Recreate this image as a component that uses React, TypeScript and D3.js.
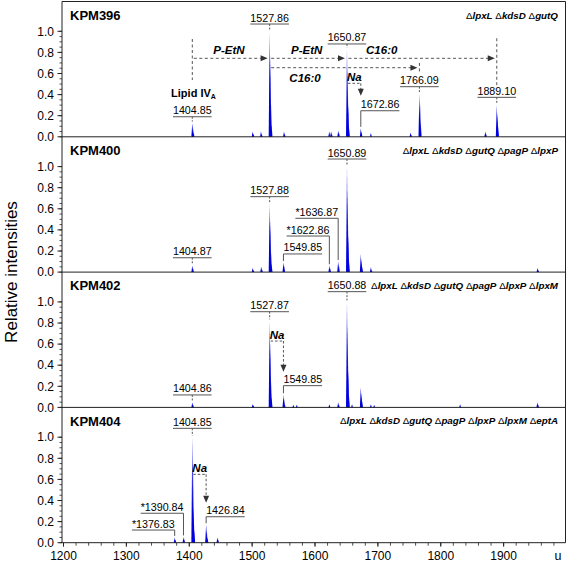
import React from 'react';
import * as d3 from 'd3';

const W = 567;
const H = 562;

const panelNames = ['KPM396', 'KPM400', 'KPM402', 'KPM404'];
const genotypes = [
  ['lpxL', 'kdsD', 'gutQ'],
  ['lpxL', 'kdsD', 'gutQ', 'pagP', 'lpxP'],
  ['lpxL', 'kdsD', 'gutQ', 'pagP', 'lpxP', 'lpxM'],
  ['lpxL', 'kdsD', 'gutQ', 'pagP', 'lpxP', 'lpxM', 'eptA'],
];

// [m/z, relative intensity]
const kpm396Peaks: [number, number][] = [
  [1404.85, 0.13], [1405.85, 0.09], [1406.85, 0.04],
  [1500.9, 0.05], [1501.9, 0.03],
  [1514.1, 0.05], [1515.1, 0.03],
  [1527.86, 1.0], [1528.86, 0.78], [1529.86, 0.36], [1530.86, 0.12],
  [1550.7, 0.05], [1551.7, 0.03],
  [1622.7, 0.05], [1625.6, 0.05], [1626.6, 0.03],
  [1637.0, 0.06], [1638.0, 0.04],
  [1650.87, 0.83], [1651.87, 0.65], [1652.87, 0.3], [1653.87, 0.1],
  [1672.86, 0.08], [1673.86, 0.05],
  [1688.9, 0.035],
  [1751.9, 0.04], [1752.9, 0.02],
  [1766.09, 0.41], [1767.09, 0.31], [1768.09, 0.14],
  [1870.9, 0.05], [1871.9, 0.03],
  [1889.1, 0.3], [1890.1, 0.23], [1891.1, 0.1],
];

const kpm400Peaks: [number, number][] = [
  [1404.87, 0.06], [1405.87, 0.04],
  [1500.9, 0.04], [1501.9, 0.02],
  [1514.5, 0.05], [1515.5, 0.03],
  [1527.88, 0.645], [1528.88, 0.5], [1529.88, 0.22], [1530.88, 0.08],
  [1549.85, 0.09], [1550.85, 0.06],
  [1622.86, 0.06], [1623.86, 0.04],
  [1636.87, 0.1], [1637.87, 0.07],
  [1650.89, 1.0], [1651.89, 0.78], [1652.89, 0.35], [1653.89, 0.12],
  [1672.86, 0.17], [1673.86, 0.12], [1674.86, 0.05],
  [1688.9, 0.045], [1689.9, 0.02],
  [1953.9, 0.04], [1954.9, 0.02],
];

const kpm402Peaks: [number, number][] = [
  [1404.86, 0.05], [1405.86, 0.03],
  [1500.9, 0.03], [1501.9, 0.02],
  [1527.87, 0.82], [1528.87, 0.63], [1529.87, 0.28], [1530.87, 0.1],
  [1549.85, 0.12], [1550.85, 0.08], [1551.85, 0.03],
  [1565.6, 0.025], [1571.0, 0.025],
  [1622.9, 0.03], [1636.9, 0.05], [1637.9, 0.03],
  [1650.88, 1.0], [1651.88, 0.78], [1652.88, 0.35], [1653.88, 0.12],
  [1658.9, 0.03],
  [1672.86, 0.19], [1673.86, 0.14], [1674.86, 0.06],
  [1688.9, 0.03], [1694.1, 0.025],
  [1830.8, 0.03],
  [1953.7, 0.05], [1954.7, 0.03],
];

const kpm404Peaks: [number, number][] = [
  [1376.83, 0.05], [1377.83, 0.03],
  [1390.84, 0.055], [1391.84, 0.035],
  [1404.85, 1.0], [1405.85, 0.78], [1406.85, 0.35], [1407.85, 0.12],
  [1426.84, 0.17], [1427.84, 0.12], [1428.84, 0.05],
  [1444.8, 0.05], [1445.8, 0.03],
];

const spectra = [kpm396Peaks, kpm400Peaks, kpm402Peaks, kpm404Peaks];

type Ann = { mz: number; text: string; level: number; kind: 'center' | 'right' | 'left' };

const kpm396Labels: Ann[] = [
  { mz: 1404.85, text: '1404.85', level: 0.19, kind: 'center' },
  { mz: 1527.86, text: '1527.86', level: 1.069, kind: 'center' },
  { mz: 1650.87, text: '1650.87', level: 0.88, kind: 'center' },
  { mz: 1766.09, text: '1766.09', level: 0.475, kind: 'center' },
  { mz: 1889.1, text: '1889.10', level: 0.374, kind: 'center' },
  { mz: 1672.86, text: '1672.86', level: 0.247, kind: 'right' },
];
const kpm400Labels: Ann[] = [
  { mz: 1404.87, text: '1404.87', level: 0.136, kind: 'center' },
  { mz: 1527.88, text: '1527.88', level: 0.715, kind: 'center' },
  { mz: 1650.89, text: '1650.89', level: 1.072, kind: 'center' },
  { mz: 1549.85, text: '1549.85', level: 0.172, kind: 'right' },
  { mz: 1622.86, text: '*1622.86', level: 0.342, kind: 'left' },
  { mz: 1636.87, text: '*1636.87', level: 0.51, kind: 'left' },
];
const kpm402Labels: Ann[] = [
  { mz: 1404.86, text: '1404.86', level: 0.118, kind: 'center' },
  { mz: 1527.87, text: '1527.87', level: 0.907, kind: 'center' },
  { mz: 1650.88, text: '1650.88', level: 1.097, kind: 'center' },
  { mz: 1549.85, text: '1549.85', level: 0.206, kind: 'right' },
];
const kpm404Labels: Ann[] = [
  { mz: 1404.85, text: '1404.85', level: 1.084, kind: 'center' },
  { mz: 1426.84, text: '1426.84', level: 0.246, kind: 'right' },
  { mz: 1390.84, text: '*1390.84', level: 0.279, kind: 'left' },
  { mz: 1376.83, text: '*1376.83', level: 0.12, kind: 'left' },
];
const labelSets = [kpm396Labels, kpm400Labels, kpm402Labels, kpm404Labels];

// mass shifts drawn in the KPM396 panel
const shiftArrows = [
  { from: 1404.85, to: 1527.86, level: 0.744, text: 'P-EtN', textMz: 1463.2, below: false },
  { from: 1527.86, to: 1650.87, level: 0.744, text: 'P-EtN', textMz: 1586.8, below: false },
  { from: 1650.87, to: 1889.1, level: 0.744, text: 'C16:0', textMz: 1706.1, below: false },
  { from: 1527.86, to: 1766.09, level: 0.655, text: 'C16:0', textMz: 1584.1, below: true },
];
const dropLines = [
  { mz: 1404.85, from: 0.927, to: 0.538 },
  { mz: 1889.1, from: 0.934, to: 0.49 },
  { mz: 1766.09, from: 0.7, to: 0.614 },
];
// Na adduct arrows
const naArrows = [
  { panel: 0, from: 1650.87, to: 1672.86, level: 0.507, tip: 0.39 },
  { panel: 2, from: 1527.87, to: 1549.85, level: 0.629, tip: 0.338 },
  { panel: 3, from: 1404.85, to: 1426.84, level: 0.648, tip: 0.379 },
];

const xMajor = [1200, 1300, 1400, 1500, 1600, 1700, 1800, 1900];
const xMinor = d3.range(1200, 2000, 20);
const yMajor = [0, 0.2, 0.4, 0.6, 0.8, 1.0];
const yMinor = d3.range(0, 1.0001, 0.05);

const FONT = 'Arial, "Liberation Sans", Helvetica, sans-serif';
const TOP = 1.5;
const PH = 135.3;
const PX_PER_UNIT = 105.5;
const AXIS_X = 62;
const RIGHT = 565.5;

const x = d3.scaleLinear().domain([1200, 2000]).range([63.5, 566.5]);
const yScale = (i: number) =>
  d3.scaleLinear().domain([0, PH / PX_PER_UNIT]).range([TOP + PH * (i + 1), TOP + PH * i]);

let ctx: CanvasRenderingContext2D | null = null;
function textW(t: string, font: string) {
  if (!ctx && typeof document !== 'undefined') ctx = document.createElement('canvas').getContext('2d');
  if (!ctx) return t.length * 6;
  ctx.font = font;
  return ctx.measureText(t).width;
}

function peakTop(peaks: [number, number][], mz: number) {
  let m = 0;
  peaks.forEach(([p, v]) => {
    if (Math.abs(p - mz) < 0.5) m = Math.max(m, v);
  });
  return m;
}

const LBL_FONT_SIZE = 10.7;
const LBL_FONT = `${LBL_FONT_SIZE}px Arial, "Liberation Sans", sans-serif`;
const GRAY = '#555';
const PEAK_COLOR = '#0000e0';

function ArrowHead({ x0, y0, dir }: { x0: number; y0: number; dir: 'right' | 'down' }) {
  const L = 7, hw = 3;
  const d = dir === 'right'
    ? `M${x0},${y0} L${x0 - L},${y0 - hw} L${x0 - L},${y0 + hw} Z`
    : `M${x0},${y0} L${x0 - hw},${y0 - L} L${x0 + hw},${y0 - L} Z`;
  return <path d={d} fill="#333" />;
}

export default function App() {
  const area = d3.area<[number, number]>();
  return (
    <svg width={W} height={H} style={{ position: 'absolute', left: 0, top: 0, background: '#fff' }}
      fontFamily={FONT}>
      <rect x={0} y={0} width={W} height={H} fill="#fff" />
      {spectra.map((peaks, i) => {
        const y = yScale(i);
        const b = y(0);
        return (
          <g key={'p' + i}>
            {peaks.map(([mz, v], k) => {
              const px = x(mz);
              const d = area.x0((p) => p[0]).y0(b).y1((p) => p[1])([
                [px - 0.95, b], [px, y(v)], [px + 0.95, b],
              ] as any);
              return <path key={k} d={d || ''} fill={PEAK_COLOR} />;
            })}
            <line x1={AXIS_X} x2={RIGHT} y1={b} y2={b} stroke="#222" strokeWidth={1} />
            {yMinor.map((t, k) => (
              <line key={'m' + k} x1={AXIS_X - 2.5} x2={AXIS_X} y1={y(t)} y2={y(t)} stroke="#222" strokeWidth={0.8} />
            ))}
            {yMajor.map((t, k) => (
              <g key={'M' + k}>
                <line x1={AXIS_X - 4.5} x2={AXIS_X} y1={y(t)} y2={y(t)} stroke="#222" strokeWidth={1} />
                <text x={54} y={y(t)} dy="0.35em" textAnchor="end" fontSize={12}>{t.toFixed(1)}</text>
              </g>
            ))}
            <text x={70} y={TOP + PH * i + 18.3} fontSize={13} fontWeight="bold">{panelNames[i]}</text>
            <text x={558} y={TOP + PH * i + 17} fontSize={9.8} textAnchor="end">
              {genotypes[i].map((g, k) => (
                <React.Fragment key={k}>
                  <tspan fontWeight="normal">{(k > 0 ? ' ' : '') + '\u0394'}</tspan>
                  <tspan fontWeight="bold" fontStyle="italic">{g}</tspan>
                </React.Fragment>
              ))}
            </text>
            {labelSets[i].map((a, k) => {
              const px = x(a.mz);
              const ly = y(a.level);
              const w = textW(a.text, LBL_FONT);
              const top = y(peakTop(peaks, a.mz)) - 1.5;
              if (a.kind === 'center') {
                return (
                  <g key={'l' + k}>
                    <text x={px} y={ly - 2.5} textAnchor="middle" fontSize={LBL_FONT_SIZE}>{a.text}</text>
                    <line x1={px - w / 2} x2={px + w / 2} y1={ly} y2={ly} stroke={GRAY} strokeWidth={1} />
                    {top - ly > 1 && (
                      <line x1={px} x2={px} y1={ly} y2={top} stroke={GRAY} strokeWidth={1} strokeDasharray="2,1.5" />
                    )}
                  </g>
                );
              }
              const x1 = a.kind === 'right' ? px : px - w;
              const x2 = a.kind === 'right' ? px + w : px;
              return (
                <g key={'l' + k}>
                  <text x={px} y={ly - 2.5} textAnchor={a.kind === 'right' ? 'start' : 'end'}
                    fontSize={LBL_FONT_SIZE}>{a.text}</text>
                  <line x1={x1} x2={x2} y1={ly} y2={ly} stroke={GRAY} strokeWidth={1} />
                  <line x1={px} x2={px} y1={ly} y2={top} stroke={GRAY} strokeWidth={1} />
                </g>
              );
            })}
          </g>
        );
      })}

      {(() => {
        const y = yScale(0);
        return (
          <g>
            {dropLines.map((d, k) => (
              <line key={'d' + k} x1={x(d.mz)} x2={x(d.mz)} y1={y(d.from)} y2={y(d.to)}
                stroke={GRAY} strokeWidth={1} strokeDasharray="3,2.5" />
            ))}
            {shiftArrows.map((s, k) => {
              const yy = y(s.level);
              const x0 = x(s.from) + 1.5;
              const x1 = x(s.to) - 2;
              return (
                <g key={'s' + k}>
                  <line x1={x0} x2={x1 - 6} y1={yy} y2={yy} stroke={GRAY} strokeWidth={1} strokeDasharray="3,2.5" />
                  <ArrowHead x0={x1} y0={yy} dir="right" />
                  <text x={x(s.textMz)} y={s.below ? yy + 14 : yy - 4.5} textAnchor="middle"
                    fontSize={11.5} fontWeight="bold" fontStyle="italic">{s.text}</text>
                </g>
              );
            })}
            <text x={193.5} y={y(0.38)} textAnchor="middle" fontSize={11} fontWeight="bold">
              Lipid IV<tspan fontSize={7} dy={2.5}>A</tspan>
            </text>
          </g>
        );
      })()}

      {naArrows.map((n, k) => {
        const y = yScale(n.panel);
        const yy = y(n.level);
        const x0 = x(n.from) + 1;
        const x1 = x(n.to);
        const tip = y(n.tip);
        return (
          <g key={'na' + k}>
            <line x1={x0} x2={x1} y1={yy} y2={yy} stroke={GRAY} strokeWidth={1} strokeDasharray="2.5,2" />
            <line x1={x1} x2={x1} y1={yy} y2={tip - 6} stroke={GRAY} strokeWidth={1} strokeDasharray="2.5,2" />
            <ArrowHead x0={x1} y0={tip} dir="down" />
            <text x={(x0 + x1) / 2} y={yy - 2.5} textAnchor="middle" fontSize={11.5} fontWeight="bold"
              fontStyle="italic">Na</text>
          </g>
        );
      })}

      <line x1={AXIS_X} x2={AXIS_X} y1={TOP} y2={TOP + PH * 4} stroke="#222" strokeWidth={1} />
      <line x1={AXIS_X} x2={RIGHT} y1={TOP} y2={TOP} stroke="#222" strokeWidth={1} />
      <line x1={RIGHT} x2={RIGHT} y1={TOP} y2={TOP + PH * 4} stroke="#222" strokeWidth={1} />

      {xMinor.map((t, k) => (
        <line key={'xm' + k} x1={x(t)} x2={x(t)} y1={TOP + PH * 4} y2={TOP + PH * 4 + 3} stroke="#222" strokeWidth={0.8} />
      ))}
      {xMajor.map((t, k) => (
        <g key={'xM' + k}>
          <line x1={x(t)} x2={x(t)} y1={TOP + PH * 4} y2={TOP + PH * 4 + 4} stroke="#222" strokeWidth={1} />
          <text x={x(t)} y={560} textAnchor="middle" fontSize={12}>{t}</text>
        </g>
      ))}
      <text x={558} y={560} textAnchor="middle" fontSize={12.5}>u</text>

      <text transform={`translate(17,${272}) rotate(-90)`} textAnchor="middle" fontSize={17}>Relative intensities</text>
    </svg>
  );
}
